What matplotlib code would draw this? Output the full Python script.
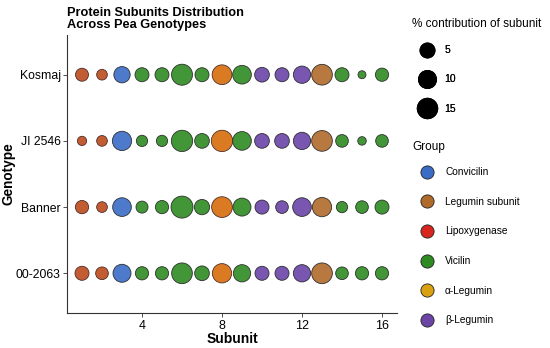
import numpy as np
import matplotlib
matplotlib.use('Agg')
import matplotlib.pyplot as plt
from matplotlib.lines import Line2D

plt.rcParams['font.family'] = ['Liberation Sans', 'DejaVu Sans']

genotypes = ['00-2063', 'Banner', 'JI 2546', 'Kosmaj']   # bottom to top
subunits = list(range(1, 17))

# % contribution of each subunit
kosmaj = [3.2, 1.3, 7.7, 4.4, 4.4, 17.4, 4.4, 14.3, 12.1, 5.3, 4.4, 9.4, 16.7, 4.4, 0.3, 3.5]
ji2546 = [0.6, 1.3, 13.4, 1.7, 1.7, 18.2, 5.3, 18.2, 12.1, 5.3, 5.3, 9.4, 16.7, 2.9, 0.4, 2.9]
banner = [3.5, 1.3, 12.1, 2.3, 3.5, 20.0, 6.1, 16.7, 10.7, 4.4, 2.9, 12.1, 13.4, 1.7, 2.9, 4.4]
g002063 = [4.4, 2.9, 10.7, 3.5, 3.5, 16.7, 5.3, 13.4, 9.4, 4.4, 4.4, 9.4, 16.7, 2.9, 3.5, 3.5]
values = {'00-2063': g002063, 'Banner': banner, 'JI 2546': ji2546, 'Kosmaj': kosmaj}

groups = ['Convicilin', 'Legumin subunit', 'Lipoxygenase', 'Vicilin', 'α-Legumin', 'β-Legumin']
group_colors = {'Convicilin': '#3A6CC6', 'Legumin subunit': '#B06A2A', 'Lipoxygenase': '#D7261E',
                'Vicilin': '#2E8B22', 'α-Legumin': '#D9A010', 'β-Legumin': '#6B44A6'}
subunit_group = ['Legumin subunit', 'Legumin subunit', 'Convicilin', 'Vicilin', 'Vicilin', 'Vicilin',
                 'Vicilin', 'α-Legumin', 'Vicilin', 'β-Legumin', 'β-Legumin', 'β-Legumin',
                 'Legumin subunit', 'Vicilin', 'Vicilin', 'Vicilin']
subunit_overlay = ['Lipoxygenase', 'Lipoxygenase', None, None, None, None, None, 'Lipoxygenase',
                   None, None, None, None, None, None, None, None]

size_breaks = [5, 10, 15]

# ggplot-like size scale: diameter in px
vmin, vmax, dmin, dmax = 0.26, 20.0, 7.3, 22.0
def dia_px(v):
    v = np.clip(np.asarray(v, dtype=float), vmin, vmax)
    return dmin + (dmax - dmin) * np.sqrt((v - vmin) / (vmax - vmin))

def area_pt(v):
    return (dia_px(v) * 0.72) ** 2

fig = plt.figure(figsize=(5.5, 3.48), dpi=100)
ax = fig.add_axes([67/550, 35/348, 330/550, 278/348])

for gi, g in enumerate(genotypes):
    y = np.full(len(subunits), gi + 1)
    cols = [group_colors[s] for s in subunit_group]
    ax.scatter(subunits, y, s=area_pt(values[g]), c=cols, edgecolors='#222222',
               linewidths=0.6, alpha=0.9, zorder=3)
    ov = [i for i, o in enumerate(subunit_overlay) if o]
    ax.scatter([subunits[i] for i in ov], [gi + 1] * len(ov),
               s=area_pt([values[g][i] for i in ov]),
               c=[group_colors[subunit_overlay[i]] for i in ov],
               edgecolors='none', alpha=0.35, zorder=4)

ax.set_xlim(0.25, 16.75)
ax.set_ylim(0.4, 4.6)
ax.set_xticks([4, 8, 12, 16])
ax.set_yticks(range(1, len(genotypes) + 1))
ax.set_yticklabels(genotypes)
ax.tick_params(axis='both', colors='#333333', length=3, width=0.6, labelcolor='black')
ax.tick_params(axis='y', labelsize=8.8, pad=1.5)
ax.tick_params(axis='x', labelsize=9, pad=2)
for side in ['top', 'right']:
    ax.spines[side].set_visible(False)
for side in ['left', 'bottom']:
    ax.spines[side].set_color('#333333')
    ax.spines[side].set_linewidth(0.8)
ax.set_xlabel('Subunit', fontsize=10, fontweight='bold', labelpad=0)
ax.set_ylabel('Genotype', fontsize=9.8, fontweight='bold')
ax.yaxis.set_label_coords(-51/330, 0.5)

fig.text(67/550, 1 - 7/348, 'Protein Subunits Distribution\nAcross Pea Genotypes',
         fontsize=9.2, fontweight='bold', ha='left', va='top', linespacing=1.05)

# legend titles
fig.text(412/550, 1 - 24/348, '% contribution of subunit', fontsize=8.5, ha='left', va='center')
fig.text(412/550, 1 - 147/348, 'Group', fontsize=8.5, ha='left', va='center')

size_handles = [Line2D([], [], marker='o', linestyle='none', markerfacecolor='black',
                       markeredgecolor='black', markersize=dia_px(b) * 0.72) for b in size_breaks]
leg1 = fig.legend(size_handles, [str(b) for b in size_breaks],
                  loc='upper left', bbox_to_anchor=(408/550, 1 - 41/348), frameon=False,
                  fontsize=7.5, labelspacing=1.85, handlelength=2.9,
                  handletextpad=0.2, borderaxespad=0)
fig.add_artist(leg1)

group_handles = [Line2D([], [], marker='o', linestyle='none', markerfacecolor=group_colors[g],
                        markeredgecolor='#222222', markeredgewidth=0.6, markersize=9.5) for g in groups]
leg2 = fig.legend(group_handles, groups, loc='upper left',
                  bbox_to_anchor=(408/550, 1 - 163/348), frameon=False,
                  fontsize=7.3, labelspacing=1.94, handlelength=2.9,
                  handletextpad=0.35, borderaxespad=0)

fig.savefig('out.png', dpi=100)
